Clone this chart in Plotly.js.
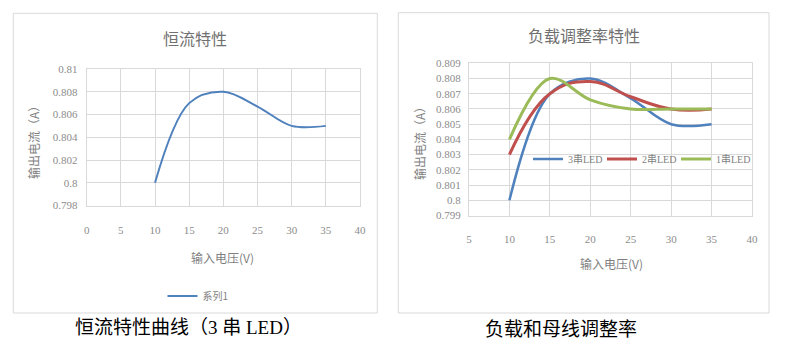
<!DOCTYPE html>
<html>
<head>
<meta charset="utf-8">
<script src="https://cdn.plot.ly/plotly-3.0.1.min.js"></script>
<style>
html,body{margin:0;padding:0;background:#fff;}
#chart{width:805px;height:359px;}
</style>
</head>
<body>
<div id="chart"></div>
<script>
// ---- data ----
const voltage = [10, 15, 20, 25, 30, 35];
const current3LED = [0.800, 0.807, 0.808, 0.8067, 0.805, 0.805];
const current2LED = [0.803, 0.807, 0.8078, 0.8068, 0.806, 0.806];
const current1LED = [0.804, 0.808, 0.8066, 0.806, 0.806, 0.806];

const leftXTicks = [0, 5, 10, 15, 20, 25, 30, 35, 40];
const rightXTicks = [5, 10, 15, 20, 25, 30, 35, 40];
const leftYTicks = [0.798, 0.800, 0.802, 0.804, 0.806, 0.808, 0.810];
const leftYLabels = ["0.798", "0.8", "0.802", "0.804", "0.806", "0.808", "0.81"];
const rightYTicks = [0.799, 0.800, 0.801, 0.802, 0.803, 0.804, 0.805, 0.806, 0.807, 0.808, 0.809];
const rightYLabels = ["0.799", "0.8", "0.801", "0.802", "0.803", "0.804", "0.805", "0.806", "0.807", "0.808", "0.809"];

const leftTitle = "恒流特性";
const rightTitle = "负载调整率特性";
const xTitle = "输入电压(V)";
const yTitle = "输出电流（A）";
const leftCaption = "恒流特性曲线（3 串 LED）";
const rightCaption = "负载和母线调整率";
const seriesNames = ["系列1", "3串LED", "2串LED", "1串LED"];

// ---- geometry helpers (pixels -> paper) ----
const W = 805, H = 359;
const px = v => v / W;
const py = v => 1 - v / H;

const cjk = '"Noto Sans CJK SC", sans-serif';
const tickFont = {family: '"Liberation Serif", serif', size: 11, color: '#8c8c8c'};
const grid = '#d9d9d9';

function axisCommon() {
  return {
    showgrid: true, gridcolor: grid, gridwidth: 1,
    showline: true, linecolor: grid, linewidth: 1, mirror: true,
    zeroline: false, ticks: '', tickfont: tickFont, fixedrange: true
  };
}

const traces = [
  {x: voltage, y: current3LED, name: seriesNames[0], type: 'scatter', mode: 'lines',
   line: {color: '#4F81BD', width: 2, shape: 'spline', smoothing: 1}, xaxis: 'x', yaxis: 'y', legend: 'legend'},
  {x: voltage, y: current3LED, name: seriesNames[1], type: 'scatter', mode: 'lines',
   line: {color: '#4F81BD', width: 2.5, shape: 'spline', smoothing: 1}, xaxis: 'x2', yaxis: 'y2', legend: 'legend2'},
  {x: voltage, y: current2LED, name: seriesNames[2], type: 'scatter', mode: 'lines',
   line: {color: '#C0504D', width: 3, shape: 'spline', smoothing: 1.2}, xaxis: 'x2', yaxis: 'y2', legend: 'legend3'},
  {x: voltage, y: current1LED, name: seriesNames[3], type: 'scatter', mode: 'lines',
   line: {color: '#9BBB59', width: 3, shape: 'spline', smoothing: 1}, xaxis: 'x2', yaxis: 'y2', legend: 'legend4'}
];

function rightLegend(xPix) {
  return {
    x: px(xPix), y: py(159), xanchor: 'left', yanchor: 'middle', orientation: 'h',
    font: {family: '"Liberation Serif", ' + cjk, size: 10, color: '#7f7f7f'},
    bgcolor: 'rgba(0,0,0,0)', itemwidth: 30
  };
}

const layout = {
  width: W, height: H,
  margin: {l: 0, r: 0, t: 0, b: 0},
  paper_bgcolor: '#fff', plot_bgcolor: '#fff',
  font: {family: cjk},
  xaxis: Object.assign(axisCommon(), {
    domain: [px(86.7), px(360)], range: [0, 40], tickvals: leftXTicks, ticklabelstandoff: 14, anchor: 'y'
  }),
  yaxis: Object.assign(axisCommon(), {
    domain: [py(205.5), py(69)], range: [0.798, 0.810], tickvals: leftYTicks, ticktext: leftYLabels,
    ticklabelstandoff: 6, anchor: 'x'
  }),
  xaxis2: Object.assign(axisCommon(), {
    domain: [px(469), px(752)], range: [5, 40], tickvals: rightXTicks, ticklabelstandoff: 13, anchor: 'y2'
  }),
  yaxis2: Object.assign(axisCommon(), {
    domain: [py(215.5), py(63.3)], range: [0.799, 0.809], tickvals: rightYTicks, ticktext: rightYLabels,
    ticklabelstandoff: 5, anchor: 'x2'
  }),
  showlegend: true,
  legend: {
    x: px(198), y: py(296), xanchor: 'center', yanchor: 'middle', orientation: 'h',
    font: {family: cjk, size: 10, color: '#7f7f7f'}, bgcolor: 'rgba(0,0,0,0)', itemwidth: 30
  },
  legend2: rightLegend(528),
  legend3: rightLegend(602),
  legend4: rightLegend(676),
  shapes: [
    {type: 'rect', xref: 'paper', yref: 'paper', x0: px(13.3), x1: px(377.3), y0: py(313), y1: py(13.3),
     line: {color: '#d9d9d9', width: 1}, layer: 'below'},
    {type: 'rect', xref: 'paper', yref: 'paper', x0: px(398.3), x1: px(769), y0: py(313), y1: py(12.7),
     line: {color: '#d9d9d9', width: 1}, layer: 'below'}
  ],
  annotations: [
    {text: leftTitle, xref: 'paper', yref: 'paper', x: px(195), y: py(38), xanchor: 'center', yanchor: 'middle',
     showarrow: false, font: {family: cjk, size: 16, color: '#707070'}},
    {text: rightTitle, xref: 'paper', yref: 'paper', x: px(584), y: py(35), xanchor: 'center', yanchor: 'middle',
     showarrow: false, font: {family: cjk, size: 16, color: '#707070'}},
    {text: xTitle, xref: 'paper', yref: 'paper', x: px(223), y: py(257), xanchor: 'center', yanchor: 'middle',
     showarrow: false, font: {family: cjk, size: 12, color: '#7f7f7f'}},
    {text: xTitle, xref: 'paper', yref: 'paper', x: px(611), y: py(263), xanchor: 'center', yanchor: 'middle',
     showarrow: false, font: {family: cjk, size: 12, color: '#7f7f7f'}},
    {text: yTitle, xref: 'paper', yref: 'paper', x: px(33), y: py(140), xanchor: 'center', yanchor: 'middle',
     textangle: -90, showarrow: false, font: {family: cjk, size: 12, color: '#7f7f7f'}},
    {text: yTitle, xref: 'paper', yref: 'paper', x: px(419), y: py(140), xanchor: 'center', yanchor: 'middle',
     textangle: -90, showarrow: false, font: {family: cjk, size: 12, color: '#7f7f7f'}},
    {text: leftCaption, xref: 'paper', yref: 'paper', x: px(188), y: py(327), xanchor: 'center', yanchor: 'middle',
     showarrow: false, font: {family: '"Liberation Serif", ' + cjk, size: 19, color: '#000'}},
    {text: rightCaption, xref: 'paper', yref: 'paper', x: px(561), y: py(327), xanchor: 'center', yanchor: 'middle',
     showarrow: false, font: {family: cjk, size: 19, color: '#000'}}
  ]
};

Plotly.newPlot('chart', traces, layout, {displayModeBar: false, staticPlot: true});
</script>
</body>
</html>
